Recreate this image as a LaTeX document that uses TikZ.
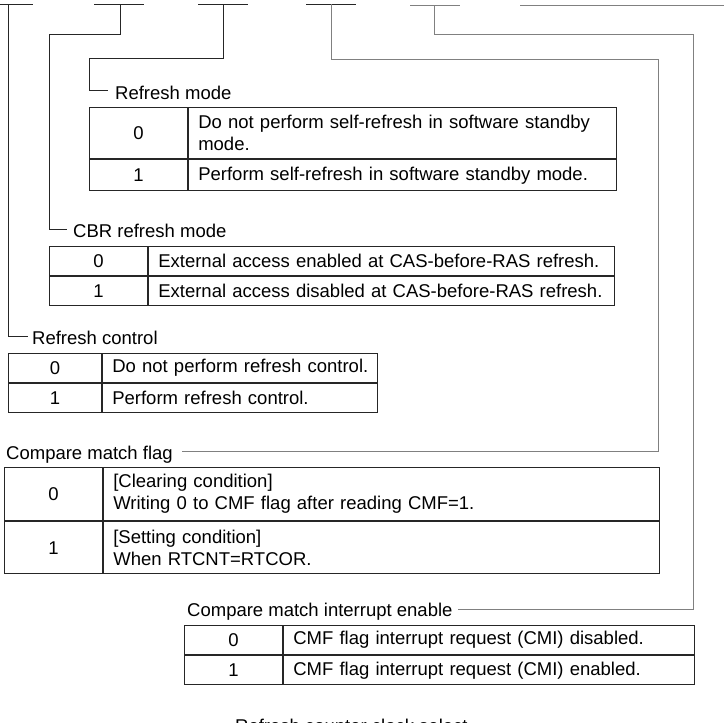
\documentclass[tikz,border=0pt]{standalone}
\usepackage{fontspec}
\setmainfont{Liberation Sans}
\newcommand\diagfont{\fontsize{18.5}{22}\selectfont}
\begin{document}
\begin{tikzpicture}[x=1pt,y=-1pt,
  dk/.style={draw=black!85, line width=0.9pt},
  lt/.style={draw=black!50, line width=0.9pt},
  cell/.style={draw=black!85, line width=1.2pt, inner sep=0pt, anchor=north west, font=\diagfont, text=black},
  keycell/.style 2 args={cell, minimum width=#1, minimum height=#2, align=center},
  valcell/.style 2 args={cell, text width=#1, minimum height=#2, inner xsep=9.5pt, align=left},
  lbl/.style={anchor=base west, inner sep=0pt, font=\diagfont, text=black}]
\useasboundingbox (0,0) rectangle (724,723);
\clip (0,0) rectangle (724,723);
% top bit bars
\draw[dk] (-17,4) -- (33,4);
\draw[dk] (94,4) -- (144,4);
\draw[dk] (198,4) -- (248,4);
\draw[dk] (306,4) -- (356,4);
\draw[lt] (410,5) -- (460,5);
\draw[lt] (520,5) -- (740,5);
\coordinate (t1) at (8,4);
\coordinate (t2) at (120,4);
\coordinate (t3) at (223,4);
\coordinate (t4) at (331,4);
\coordinate (t5) at (434,5);

% labels
\node[lbl] (rml) at (115,99) {Refresh mode};
\node[lbl] (cbrl) at (73,237.5) {CBR refresh mode};
\node[lbl] (rcl) at (32,344.5) {Refresh control};
\node[lbl] (cmfl) at (6,459) {Compare match flag};
\node[lbl] (cmiel) at (187,616) {Compare match interrupt enable};
\node[lbl] (rcsl) at (235,732.5) {Refresh counter clock select};

% Refresh mode table
\node[keycell={98}{51}] (rm0k) at (89,107) {0};
\node[valcell={409}{51}] (rm0v) at (rm0k.north east) {Do not perform self-refresh in software standby\\mode.};
\node[keycell={98}{31}] (rm1k) at (rm0k.south west) {1};
\node[valcell={409}{31}] (rm1v) at (rm1k.north east) {Perform self-refresh in software standby mode.};

% CBR refresh mode table
\node[keycell={98}{29}] (cb0k) at (49,246) {0};
\node[valcell={447}{29}] (cb0v) at (cb0k.north east) {External access enabled at CAS-before-RAS refresh.};
\node[keycell={98}{29}] (cb1k) at (cb0k.south west) {1};
\node[valcell={447}{29}] (cb1v) at (cb1k.north east) {External access disabled at CAS-before-RAS refresh.};

% Refresh control table
\node[keycell={93}{29}] (rc0k) at (8,353) {0};
\node[valcell={256}{29}] (rc0v) at (rc0k.north east) {\mbox{Do not perform refresh control.}};
\node[keycell={93}{29}] (rc1k) at (rc0k.south west) {1};
\node[valcell={256}{29}] (rc1v) at (rc1k.north east) {Perform refresh control.};

% Compare match flag table
\node[keycell={98}{53}] (cf0k) at (4,467) {0};
\node[valcell={537}{53}] (cf0v) at (cf0k.north east) {[Clearing condition]\\Writing 0 to CMF flag after reading CMF=1.};
\node[keycell={98}{52}] (cf1k) at (cf0k.south west) {1};
\node[valcell={537}{52}] (cf1v) at (cf1k.north east) {[Setting condition]\\When RTCNT=RTCOR.};

% Compare match interrupt enable table
\node[keycell={98}{29}] (ci0k) at (184,625) {0};
\node[valcell={392}{29}] (ci0v) at (ci0k.north east) {CMF flag interrupt request (CMI) disabled.};
\node[keycell={98}{29}] (ci1k) at (ci0k.south west) {1};
\node[valcell={392}{29}] (ci1v) at (ci1k.north east) {CMF flag interrupt request (CMI) enabled.};

% connectors
\coordinate (rce) at (28,336);
\draw[dk] (t1) |- (rce);
\coordinate (k2) at (49,34);
\coordinate (cbre) at (67,229);
\draw[dk] (t2) |- (k2) |- (cbre);
\coordinate (k3) at (89,58);
\coordinate (rme) at (108,90);
\draw[dk] (t3) |- (k3) |- (rme);
\coordinate (k4) at (658,59);
\coordinate (cmfe) at (182,451.7);
\draw[lt] (t4) |- (k4) |- (cmfe);
\coordinate (k5) at (693,34);
\coordinate (cmie) at (458,609);
\draw[lt] (t5) |- (k5) |- (cmie);
\end{tikzpicture}
\end{document}
